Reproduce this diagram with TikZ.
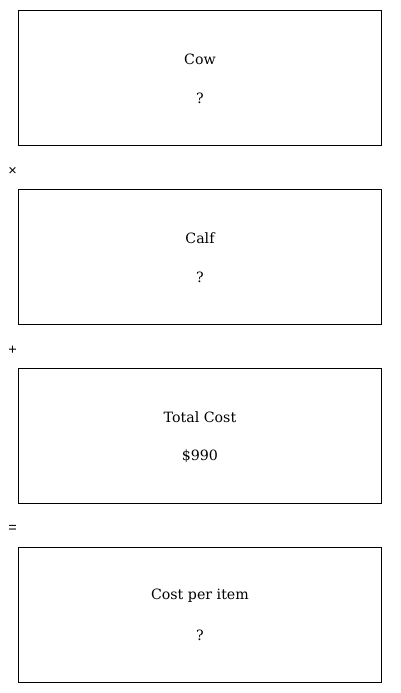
\documentclass[tikz,border=0pt]{standalone}
\usepackage{fontspec}
\setmainfont{DejaVu Serif}
\newfontfamily\symfont{Liberation Sans}
\begin{document}
\begin{tikzpicture}[x=1pt,y=-1pt,
  card/.style={draw=black, line width=0.9pt, minimum width=363pt, minimum height=135pt, inner sep=0pt, anchor=north west},
  lbl/.style={font=\fontsize{14.2}{16}\selectfont, anchor=center},
  op/.style={font=\symfont\fontsize{14.5}{16}\selectfont, anchor=center}]
\useasboundingbox (0,0) rectangle (400,693);
\node[card] (b1) at (18,10) {};
\node[card] (b2) at (18,189) {};
\node[card] (b3) at (18,368) {};
\node[card] (b4) at (18,547) {};
\node[lbl] (t1) at ([yshift=19pt]b1.center) {Cow};
\node[lbl] (v1) at ([yshift=-20.5pt]b1.center) {?};
\node[lbl] (t2) at ([yshift=19pt]b2.center) {Calf};
\node[lbl] (v2) at ([yshift=-20.5pt]b2.center) {?};
\node[lbl] (t3) at ([yshift=19pt]b3.center) {Total Cost};
\node[lbl] (v3) at ([yshift=-20.5pt]b3.center) {\$990};
\node[lbl] (t4) at ([yshift=19pt]b4.center) {Cost per item};
\node[lbl] (v4) at ([yshift=-20.5pt]b4.center) {?};
\node[op] (o1) at (12.5,171) {×};
\node[op] (o2) at (12.5,350) {+};
\node[op] (o3) at (12.5,528.5) {=};
\end{tikzpicture}
\end{document}
